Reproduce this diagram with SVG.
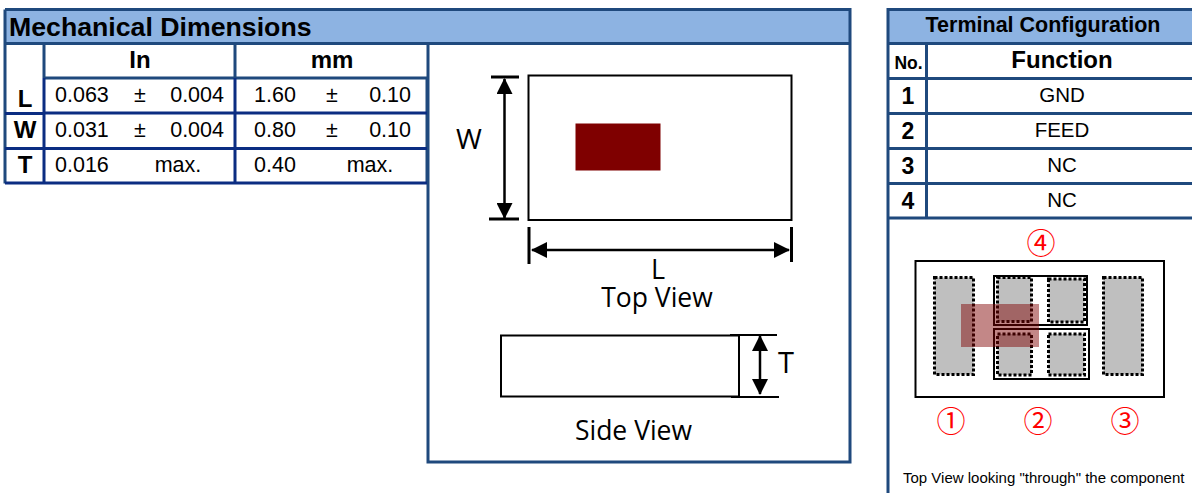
<svg xmlns="http://www.w3.org/2000/svg" width="1192" height="493" viewBox="0 0 1192 493">
<style>
text{font-family:"Liberation Sans",Arial,sans-serif;fill:#000}
.m{text-anchor:middle}
.b{font-weight:bold}
.v{font-size:21.500px}
.f{font-size:20.500px}
.s{font-family:"Open Sans","Liberation Sans",sans-serif;font-size:26.500px}
.g{stroke:#1f497d;stroke-width:3;fill:none}
.n{stroke:#0b2d82;stroke-width:3;fill:none}
.k{stroke:#000;stroke-width:2;fill:none}
.t{stroke:#000;stroke-width:3;fill:none}
.d{stroke:#000;stroke-width:2.500;fill:none;marker-start:url(#a);marker-end:url(#a)}
.pad{fill:#bfbfbf;stroke:#000;stroke-width:3;stroke-dasharray:3 2}
.c{font-family:"Noto Sans CJK JP","Liberation Sans",sans-serif;font-size:29px;fill:#f00;text-anchor:middle}
</style>
<defs>
<marker id="a" markerUnits="userSpaceOnUse" markerWidth="16" markerHeight="16" refX="15" refY="8" orient="auto-start-reverse"><path d="M0 0L16 8L0 16Z" fill="#000"/></marker>
</defs>
<g id="mechanical-dimensions">
<rect x="5" y="9.500" width="845" height="34" fill="#8db3e2"/>
<path class="g" d="M5 9.500H850V462H428V44M5 43.500H850M5 9.500V183.500M44 44V78M235 44V78M44 78H427M427 78V183"/>
<path class="n" d="M44 78V183M235 78V183M44 113H427M5 113.500H44M5 148.500H427M5 183H427"/>
<text x="9" y="36" class="b" font-size="26.700">Mechanical Dimensions</text>
<g class="b" font-size="24"><text x="140" y="68" class="m">In</text><text x="332" y="68" class="m">mm</text><text x="25" y="107" class="m">L</text><text x="25" y="138" class="m">W</text><text x="25" y="173" class="m">T</text></g>
<text x="55" y="102" class="v">0.063</text><text x="140" y="102" class="v m">±</text><text x="224" y="102" class="v" text-anchor="end">0.004</text>
<text x="254" y="102" class="v">1.60</text><text x="332" y="102" class="v m">±</text><text x="411" y="102" class="v" text-anchor="end">0.10</text>
<text x="55" y="137" class="v">0.031</text><text x="140" y="137" class="v m">±</text><text x="224" y="137" class="v" text-anchor="end">0.004</text>
<text x="254" y="137" class="v">0.80</text><text x="332" y="137" class="v m">±</text><text x="411" y="137" class="v" text-anchor="end">0.10</text>
<text x="55" y="172" class="v">0.016</text><text x="178" y="172" class="v m">max.</text>
<text x="254" y="172" class="v">0.40</text><text x="370" y="172" class="v m">max.</text>
</g>
<g id="top-view">
<rect x="528.500" y="75.500" width="263" height="144.500" class="k"/>
<rect x="575.500" y="123.500" width="85" height="47" fill="#7f0000"/>
<path class="t" d="M491 77H519M489 219H519M529 227V264M791.500 227V262"/>
<text x="469" y="149" class="m" font-size="28" style="font-family:'Open Sans','Liberation Sans',sans-serif">W</text>
<text x="658" y="279" class="s m" style="font-size:27px">L</text>
<text x="657" y="307" class="s m">Top View</text>
</g>
<g id="side-view">
<rect x="501" y="335.500" width="238" height="61" class="k"/>
<path class="k" d="M730 335H777M731 397H779"/>
<text x="786" y="373" class="s m" style="font-size:29px">T</text>
<text x="633.500" y="440" class="s m">Side View</text>
</g>
<g id="connectors">
<path class="d" d="M504.500 79V218"/>
<path class="d" d="M532 250H789"/>
<path class="d" d="M760 336V394"/>
</g>
<g id="terminal-configuration">
<rect x="888" y="9.500" width="304" height="34" fill="#8db3e2"/>
<path class="g" d="M1192 9.500H888V493M888 43.500H1192M888 78.500H1192M888 113.500H1192M888 148.500H1192M888 183.500H1192M888 218H1192M926.500 44V219"/>
<text x="1043" y="32" class="b m" font-size="21.500">Terminal Configuration</text>
<text x="908.500" y="69" class="b m" font-size="17.500">No.</text>
<text x="1062" y="68" class="b m" font-size="24">Function</text>
<g class="b" font-size="23"><text x="908" y="103.500" class="m">1</text><text x="908" y="138.500" class="m">2</text><text x="908" y="173.500" class="m">3</text><text x="908" y="208.500" class="m">4</text></g>
<text x="1062" y="102" class="m f">GND</text>
<text x="1062" y="137" class="m f">FEED</text>
<text x="1062" y="172" class="m f">NC</text>
<text x="1062" y="207" class="m f">NC</text>
</g>
<g id="terminal-diagram">
<rect x="915.500" y="261" width="248.500" height="136" fill="#fff" stroke="#000" stroke-width="2"/>
<rect x="934.500" y="277.500" width="39" height="97" class="pad"/>
<rect x="1103.500" y="277.500" width="39" height="97" class="pad"/>
<rect x="997.500" y="277.500" width="34" height="44" class="pad"/>
<rect x="1048.500" y="279" width="36" height="43" class="pad"/>
<rect x="997.500" y="334" width="34" height="41" class="pad"/>
<rect x="1048.500" y="334" width="36" height="41" class="pad"/>
<rect x="994" y="276" width="93" height="49" class="k"/>
<rect x="994" y="329" width="95" height="50" class="k"/>
<rect x="961" y="304" width="78" height="43" fill="#7f0000" fill-opacity=".47"/>
<text x="1041" y="254" class="c">④</text>
<text x="951" y="432" class="c">①</text>
<text x="1038" y="432" class="c">②</text>
<text x="1125" y="432" class="c">③</text>
<text x="903" y="483" font-size="15">Top View looking "through" the component</text>
</g>
</svg>
